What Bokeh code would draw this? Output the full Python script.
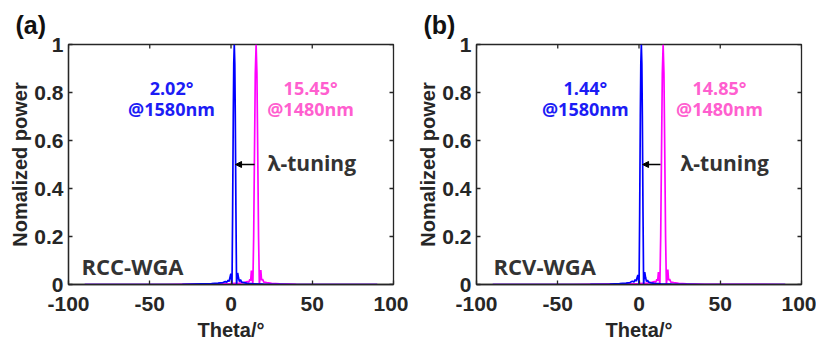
from bokeh.plotting import figure
from bokeh.layouts import row
from bokeh.models import Range1d, FixedTicker, Label, Arrow, NormalHead
from bokeh.embed import file_html
from bokeh.resources import INLINE

# ---- data -------------------------------------------------------------
x_ticks = [-100, -50, 0, 50, 100]
x_tick_labels = ["-100", "-50", "0", "50", "100"]
y_ticks = [0, 0.2, 0.4, 0.6, 0.8, 1.0]
y_tick_labels = ["0", "0.2", "0.4", "0.6", "0.8", "1"]

# (a) RCC-WGA
theta_a_1580 = [-90, -60, -30, -18, -12, -8, -5, -3.5, -2.5, -1.8,
                -1.2, -0.6, -0.1, 0.3, 0.62, 1.0, 1.4, 1.7, 2.02, 2.34,
                2.64, 3.04, 3.42, 3.72, 4.1, 4.6, 5.2, 5.8, 6.6, 8,
                10, 14, 20, 40, 90]
power_a_1580 = [0, 0, 0.001, 0.003, 0.004, 0.006, 0.008, 0.012, 0.01, 0.018,
                0.012, 0.03, 0.045, 0.02, 0.0, 0.3, 0.7, 0.92, 1.0, 0.92,
                0.7, 0.3, 0.0, 0.025, 0.048, 0.028, 0.012, 0.02, 0.01, 0.008,
                0.005, 0.003, 0.002, 0, 0]
theta_a_1480 = [-90, -40, -20, -10, 0, 5, 8, 10, 11, 11.6,
                12.1, 12.55, 13.0, 13.45, 13.95, 14.45, 14.95, 15.45, 15.95, 16.45,
                16.95, 17.45, 17.9, 18.35, 18.8, 19.4, 20.2, 22, 25, 30,
                40, 90]
power_a_1480 = [0, 0, 0.002, 0.003, 0.004, 0.006, 0.008, 0.012, 0.01, 0.022,
                0.015, 0.058, 0.03, 0.0, 0.2, 0.55, 0.88, 1.0, 0.88, 0.55,
                0.2, 0.0, 0.03, 0.06, 0.018, 0.022, 0.01, 0.008, 0.005, 0.003,
                0.001, 0]

# (b) RCV-WGA
theta_b_1580 = [-90, -60, -30, -18, -12, -8, -5.5, -4.1, -3.1, -2.4,
                -1.8, -1.2, -0.68, -0.28, 0.04, 0.42, 0.82, 1.12, 1.44, 1.76,
                2.06, 2.46, 2.84, 3.14, 3.52, 4.02, 4.62, 5.22, 6.0, 7.4,
                9.4, 13.4, 20, 40, 90]
power_b_1580 = [0, 0, 0.001, 0.002, 0.004, 0.006, 0.008, 0.014, 0.01, 0.02,
                0.014, 0.028, 0.04, 0.018, 0.0, 0.3, 0.7, 0.92, 1.0, 0.92,
                0.7, 0.3, 0.0, 0.028, 0.052, 0.03, 0.012, 0.018, 0.01, 0.007,
                0.005, 0.003, 0.002, 0, 0]
theta_b_1480 = [-90, -40, -20, -10, 0, 5, 7.4, 9.4, 10.4, 11.0,
                11.5, 11.95, 12.4, 12.85, 13.35, 13.85, 14.35, 14.85, 15.35, 15.85,
                16.35, 16.85, 17.3, 17.75, 18.2, 18.8, 19.6, 21.4, 24.4, 29.4,
                40, 90]
power_b_1480 = [0, 0, 0.002, 0.003, 0.004, 0.006, 0.008, 0.012, 0.01, 0.022,
                0.015, 0.052, 0.03, 0.0, 0.2, 0.55, 0.88, 1.0, 0.88, 0.55,
                0.2, 0.0, 0.03, 0.062, 0.018, 0.022, 0.01, 0.008, 0.005, 0.003,
                0.001, 0]

panels = [
    dict(tag="(a)", name="RCC-WGA", angle_1580="2.02°", angle_1480="15.45°",
         t1580=theta_a_1580, p1580=power_a_1580, t1480=theta_a_1480, p1480=power_a_1480,
         blue_x=-36.6, pink_x=49.0, tune_x=22.5, arrow=(14.5, 2.8), name_x=-92.0),
    dict(tag="(b)", name="RCV-WGA", angle_1580="1.44°", angle_1480="14.85°",
         t1580=theta_b_1580, p1580=power_b_1580, t1480=theta_b_1480, p1480=power_b_1480,
         blue_x=-33.0, pink_x=49.5, tune_x=25.5, arrow=(13.2, 2.2), name_x=-89.5),
]

AXIS_COLOR = "#262626"
TICK_FONT = "Liberation Sans"
NOTE_FONT = "Open Sans"
BLUE = "#0000ff"
MAGENTA = "#ff00ff"
BLUE_TEXT = "#1c1cf5"
PINK_TEXT = "#ff5fcf"

FRAME_W, FRAME_H = 325, 240
X0, X1 = -100, 100
Y0, Y1 = 0, 1
TICK_PX = 4


def make_panel(d):
    p = figure(frame_width=FRAME_W, frame_height=FRAME_H,
               min_border_left=68, min_border_right=15,
               min_border_top=44, min_border_bottom=62,
               x_range=Range1d(X0, X1), y_range=Range1d(Y0, Y1),
               output_backend="svg", toolbar_location=None,
               background_fill_color="white", border_fill_color="white")
    p.grid.visible = False
    p.outline_line_color = AXIS_COLOR
    p.outline_line_width = 1.3

    p.xaxis.ticker = FixedTicker(ticks=x_ticks)
    p.yaxis.ticker = FixedTicker(ticks=y_ticks)
    p.xaxis.major_label_overrides = {t: s for t, s in zip(x_ticks, x_tick_labels)}
    p.yaxis.major_label_overrides = {t: s for t, s in zip(y_ticks, y_tick_labels)}
    for ax in p.xaxis + p.yaxis:
        ax.major_tick_in = TICK_PX
        ax.major_tick_out = 0
        ax.minor_tick_line_color = None
        ax.major_tick_line_color = AXIS_COLOR
        ax.major_tick_line_width = 1.3
        ax.axis_line_color = AXIS_COLOR
        ax.axis_line_width = 1.3
        ax.major_label_text_font = TICK_FONT
        ax.major_label_text_font_style = "bold"
        ax.major_label_text_color = AXIS_COLOR
        ax.major_label_text_font_size = "21px"
        ax.axis_label_text_font = TICK_FONT
        ax.axis_label_text_font_style = "bold"
        ax.axis_label_text_font_size = "20px"
        ax.axis_label_text_color = AXIS_COLOR
    p.xaxis.major_label_standoff = 12
    p.yaxis.major_label_standoff = 5
    p.xaxis.axis_label_standoff = 5
    p.yaxis.axis_label_standoff = 0
    p.xaxis.axis_label = "Theta/°"
    p.yaxis.axis_label = "Nomalized power"

    # mirrored inward ticks along the top and right edges of the box
    dy = TICK_PX * (Y1 - Y0) / FRAME_H
    dx = TICK_PX * (X1 - X0) / FRAME_W
    p.segment(x0=x_ticks, y0=[Y1] * len(x_ticks), x1=x_ticks, y1=[Y1 - dy] * len(x_ticks),
              line_color=AXIS_COLOR, line_width=1.3)
    p.segment(x0=[X1] * len(y_ticks), y0=y_ticks, x1=[X1 - dx] * len(y_ticks), y1=y_ticks,
              line_color=AXIS_COLOR, line_width=1.3)

    # curves
    p.line(d["t1480"], d["p1480"], line_color=MAGENTA, line_width=1.7)
    p.line(d["t1580"], d["p1580"], line_color=BLUE, line_width=1.7)

    # annotations
    def note(x, y, text, color, size, anchor="center"):
        p.add_layout(Label(x=x, y=y, text=text, text_color=color, text_font=NOTE_FONT,
                           text_font_style="bold", text_font_size=size,
                           text_align=anchor, text_baseline="middle"))

    note(d["blue_x"], 0.82, d["angle_1580"], BLUE_TEXT, "18px")
    note(d["blue_x"], 0.733, "@1580nm", BLUE_TEXT, "18px")
    note(d["pink_x"], 0.82, d["angle_1480"], PINK_TEXT, "18px")
    note(d["pink_x"], 0.733, "@1480nm", PINK_TEXT, "18px")
    note(d["tune_x"], 0.505, "λ-tuning", "#333333", "21px", anchor="left")
    note(d["name_x"], 0.078, d["name"], "#333333", "22px", anchor="left")

    a0, a1 = d["arrow"]
    p.add_layout(Arrow(x_start=a0, y_start=0.5, x_end=a1, y_end=0.5,
                       line_color="black", line_width=1.3,
                       end=NormalHead(size=6, fill_color="black", line_color="black")))

    # panel tag
    p.title.text = d["tag"]
    p.title.align = "left"
    p.title.offset = -53
    p.title.text_font = TICK_FONT
    p.title.text_font_style = "bold"
    p.title.text_font_size = "25px"
    p.title.text_color = "#111111"
    p.title.standoff = 12
    return p


layout = row(*[make_panel(d) for d in panels], spacing=0)
open("out.html", "w").write(file_html(layout, INLINE))
